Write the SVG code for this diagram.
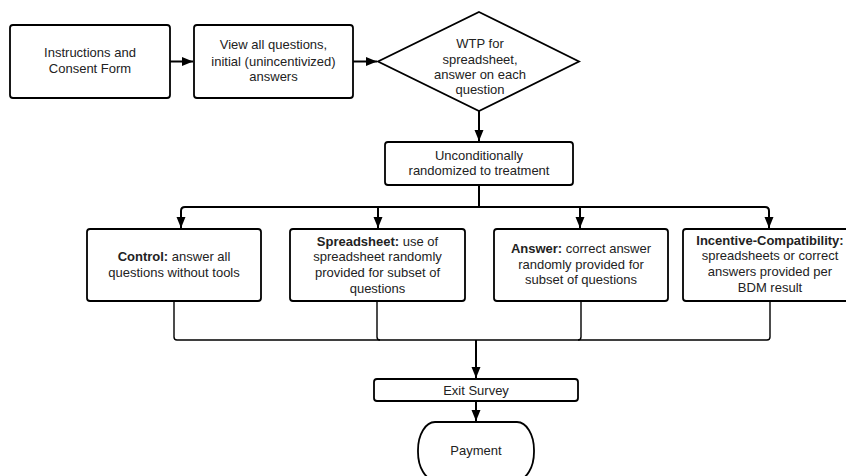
<svg xmlns="http://www.w3.org/2000/svg" width="846" height="476" viewBox="0 0 846 476">
<style>
.box{fill:#fff;stroke:#000;stroke-width:1.8}
.t{font-family:"Liberation Sans",Arial,sans-serif;font-size:13px;fill:#222;text-anchor:middle}
.b{font-weight:bold}
.c{fill:none;stroke:#000;stroke-width:2}
.c2{fill:none;stroke:#000;stroke-width:1.4}
</style>
<defs>
<marker id="ah" markerUnits="userSpaceOnUse" markerWidth="12" markerHeight="12" viewBox="0 0 12 12" refX="11" refY="6" orient="auto">
<path d="M0,1.5 L11,6 L0,10.5 Z" fill="#000"/>
</marker>
</defs>
<rect width="846" height="476" fill="#fff"/>
<g id="connectors">
<path class="c" d="M170,61.5 H193" marker-end="url(#ah)"/>
<path class="c" d="M353,61.5 H377" marker-end="url(#ah)"/>
<path class="c" d="M479,111 V141" marker-end="url(#ah)"/>
<path class="c" d="M479,185 V207"/>
<path class="c" d="M181,228 V211 Q181,207 185,207 H765 Q769,207 769,211 V228" marker-end="url(#ah)"/>
<path class="c" d="M181,211 V228" marker-end="url(#ah)"/>
<path class="c" d="M378,207 V228" marker-end="url(#ah)"/>
<path class="c" d="M580,207 V228" marker-end="url(#ah)"/>
<path class="c2" d="M174,301 V337 Q174,340 177,340 H767 Q770,340 770,337 V301"/>
<path class="c2" d="M377,301 V337 Q377,340 380,340"/>
<path class="c2" d="M581,301 V337 Q581,340 578,340"/>
<path class="c" d="M476,340 V378" marker-end="url(#ah)"/>
<path class="c" d="M476,401 V421" marker-end="url(#ah)"/>
</g>
<g id="n1"><rect class="box" x="10" y="25" width="160" height="73" rx="3"/>
<text class="t" x="90" y="57">Instructions and</text><text class="t" x="90" y="73">Consent Form</text></g>
<g id="n2"><rect class="box" x="194" y="25" width="159" height="73" rx="3"/>
<text class="t" x="273.5" y="49">View all questions,</text><text class="t" x="273.5" y="65.5">initial (unincentivized)</text><text class="t" x="273.5" y="81">answers</text></g>
<g id="n3"><path class="box" d="M479,12 L579,61.5 L479,111 L378,61.5 Z"/>
<text class="t" x="480" y="48">WTP for</text><text class="t" x="480" y="63.5">spreadsheet,</text><text class="t" x="480" y="78.5">answer on each</text><text class="t" x="480" y="94">question</text></g>
<g id="n4"><rect class="box" x="385" y="142" width="188" height="43" rx="3"/>
<text class="t" x="479" y="159.5">Unconditionally</text><text class="t" x="479" y="175">randomized to treatment</text></g>
<g id="n5"><rect class="box" x="87" y="229" width="174" height="72" rx="3"/>
<text class="t" x="174" y="260.5"><tspan class="b">Control:</tspan> answer all</text><text class="t" x="174" y="276.5">questions without tools</text></g>
<g id="n6"><rect class="box" x="290" y="229" width="175" height="72" rx="3"/>
<text class="t" x="377.5" y="245.5"><tspan class="b">Spreadsheet:</tspan> use of</text><text class="t" x="377.5" y="261">spreadsheet randomly</text><text class="t" x="377.5" y="276.5">provided for subset of</text><text class="t" x="377.5" y="292.5">questions</text></g>
<g id="n7"><rect class="box" x="494" y="229" width="174" height="72" rx="3"/>
<text class="t" x="581" y="252.5"><tspan class="b">Answer:</tspan> correct answer</text><text class="t" x="581" y="268.5">randomly provided for</text><text class="t" x="581" y="284">subset of questions</text></g>
<g id="n8"><rect class="box" x="683" y="229" width="174" height="72" rx="3"/>
<text class="t b" x="770" y="244.5">Incentive-Compatibility:</text><text class="t" x="770" y="260">spreadsheets or correct</text><text class="t" x="770" y="275.5">answers provided per</text><text class="t" x="770" y="291.5">BDM result</text></g>
<g id="n9"><rect class="box" x="374" y="379" width="204" height="22" rx="3"/>
<text class="t" x="476" y="394.5">Exit Survey</text></g>
<g id="n10"><rect class="box" x="418" y="422" width="116" height="58" rx="17" ry="28"/>
<text class="t" x="476" y="454.5">Payment</text></g>
</svg>
